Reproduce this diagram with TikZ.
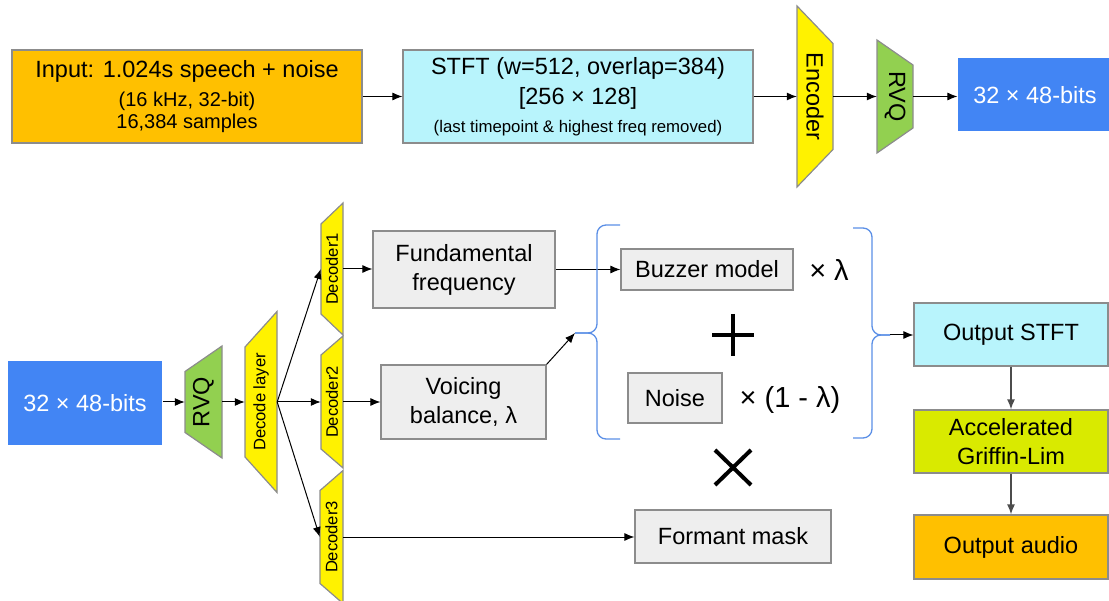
\documentclass[tikz,border=0pt]{standalone}
\usepackage{graphicx}
\usepackage{fontspec}
\setmainfont{Liberation Sans}
\usetikzlibrary{arrows.meta}
\definecolor{inorange}{HTML}{FFC000}
\definecolor{stftcyan}{HTML}{B8F4FC}
\definecolor{bitblue}{HTML}{4285F4}
\definecolor{rvqgreen}{HTML}{92D050}
\definecolor{gllime}{HTML}{D9EA00}
\definecolor{boxgray}{HTML}{EEEEEE}
\definecolor{bracblue}{HTML}{5B8FE6}
\def\bigfont{\fontsize{23.5}{29}\selectfont}
\def\midfont{\fontsize{20}{22}\selectfont}
\def\smallfont{\fontsize{16.8}{19}\selectfont}
\def\decfont{\fontsize{16.6}{18}\selectfont}
\def\multfont{\fontsize{29}{32}\selectfont}
\tikzset{
	box/.style={draw=black!45, line width=1.2pt, inner sep=0pt, align=center, font=\bigfont},
	arr/.style={-{Latex[length=10pt,width=8pt]}, line width=1pt},
	darr/.style={-{Latex[length=10pt,width=8pt]}, line width=1.4pt, draw=black!70},
	trap/.style={draw=black!45, line width=1.2pt},
	brc/.style={draw=bracblue, line width=1.3pt, rounded corners=9pt}
}
% trapezium: name, fill, x, y, width, left half-height, right half-height, text
\newcommand{\trapnode}[8]{%
	\draw[trap, fill=#2] ({#3-#5/2},{#4-#6}) -- ({#3+#5/2},{#4-#7}) -- ({#3+#5/2},{#4+#7}) -- ({#3-#5/2},{#4+#6}) -- cycle;
	\node[inner sep=0pt, minimum width=#5pt, font=\bigfont] (#1) at (#3,#4) {#8};}

\begin{document}
\begin{tikzpicture}[x=1pt, y=-1pt]
			%%%%% START %%%%%
			\useasboundingbox (0,0) rectangle (1109,601);
			
			\node[box, fill=inorange, minimum width=350pt, minimum height=93pt] (in) at (187,96.5) {Input: 1.024s speech + noise\\{\midfont (16 kHz, 32-bit)}\\[-7pt]{\midfont 16,384 samples}};
			\node[box, fill=stftcyan, minimum width=350pt, minimum height=93pt] (stft) at (578,96.5) {STFT (w=512, overlap=384)\\[1pt]{}[256 × 128]\\[-1.5pt]{\smallfont (last timepoint \& highest freq removed)}};
			\trapnode{enc}{yellow}{815}{96.5}{36}{90.5}{53}{\rotatebox{-90}{Encoder}}
			\trapnode{rvqa}{rvqgreen}{895}{96.5}{36}{56.5}{31.5}{\rotatebox{-90}{RVQ}}
			\node[box, draw=none, fill=bitblue, text=white, minimum width=154pt, minimum height=73pt] (bitsa) at (1035,95) {32 × 48-bits};
			
			\draw[arr] (in) -- (stft);
			\draw[arr] (stft) -- (enc.west);
			\draw[arr] (enc.east) -- (rvqa.west);
			\draw[arr] (rvqa.east) -- (rvqa.east -| bitsa.west);
			
			\node[box, draw=none, fill=bitblue, text=white, minimum width=154pt, minimum height=84pt] (bitsb) at (85,403) {32 × 48-bits};
			\trapnode{rvqb}{rvqgreen}{203.5}{402}{37}{30.5}{56}{\rotatebox{90}{RVQ}}
			\trapnode{dl}{yellow}{261}{402}{32}{55}{90.5}{\rotatebox{90}{\decfont Decode layer}}
			\trapnode{deca}{yellow}{332}{269}{22}{45}{66}{\rotatebox{90}{\decfont Decoder1}}
			\trapnode{decb}{yellow}{332}{402}{22}{47}{66}{\rotatebox{90}{\decfont Decoder2}}
			\trapnode{decc}{yellow}{331.5}{537}{23}{46.5}{66.5}{\rotatebox{90}{\decfont Decoder3}}
			
			\draw[arr] (bitsb.east |- rvqb.west) -- (rvqb.west);
			\draw[arr] (rvqb.east) -- (dl.west);
			\draw[arr] (dl.east) -- (deca.west);
			\draw[arr] (dl.east) -- (decb.west);
			\draw[arr] (dl.east) -- (decc.west);
			
			\node[box, fill=boxgray, minimum width=182pt, minimum height=77pt] (ff) at (464,269.5) {Fundamental\\frequency};
			\node[box, fill=boxgray, minimum width=165pt, minimum height=74pt] (vb) at (463.5,402) {Voicing\\balance, λ};
			\node[box, fill=boxgray, minimum width=196pt, minimum height=53pt] (fm) at (733,536.5) {Formant mask};
			\node[box, fill=boxgray, minimum width=172pt, minimum height=41pt] (buzz) at (707,269.5) {Buzzer model};
			\node[box, fill=boxgray, minimum width=94pt, minimum height=50pt] (noise) at (675,398) {Noise};
			\node[font=\multfont] (mula) at (829,270) {× λ};
			\node[font=\multfont] (mulb) at (790,400) {× (1 - λ)};
			
			\draw[arr] (deca.east) -- (deca.east -| ff.west);
			\draw[arr] (decb.east) -- (decb.east -| vb.west);
			\draw[arr] (decc.east) -- (decc.east -| fm.west);
			\draw[arr] (ff.east) -- (ff.east -| buzz.west);
			
			% braces
			\coordinate (lbtip) at (575,333);
			\coordinate (rbtip) at (890,335);
			\draw[brc] (620,225) -- (597,225) -- (597,333) -- (lbtip);
			\draw[brc] (lbtip) -- (597,333) -- (597,439) -- (620,439);
			\draw[brc] (853,228) -- (872,228) -- (872,335) -- (rbtip);
			\draw[brc] (rbtip) -- (872,335) -- (872,438) -- (853,438);
			\draw[arr] (vb.north east) -- (lbtip);
			
			% plus and times
			\draw[line width=4pt] (712,335) -- (754,335) (733,314) -- (733,356);
			\draw[line width=4pt] (715,450) -- (751,485) (751,450) -- (715,485);
			
			\node[box, fill=stftcyan, minimum width=194pt, minimum height=63pt] (ostft) at (1011,334.5) {Output STFT};
			\node[box, fill=gllime, minimum width=194pt, minimum height=63pt] (agl) at (1011,441.5) {Accelerated\\Griffin-Lim};
			\node[box, fill=inorange, minimum width=194pt, minimum height=64pt] (oaud) at (1011,547) {Output audio};
			
			\draw[arr] (rbtip) -- (rbtip -| ostft.west);
			\draw[darr] (ostft) -- (agl);
			\draw[darr] (agl) -- (oaud);
			
			%%%%% END %%%%%
\end{tikzpicture}
\end{document}
